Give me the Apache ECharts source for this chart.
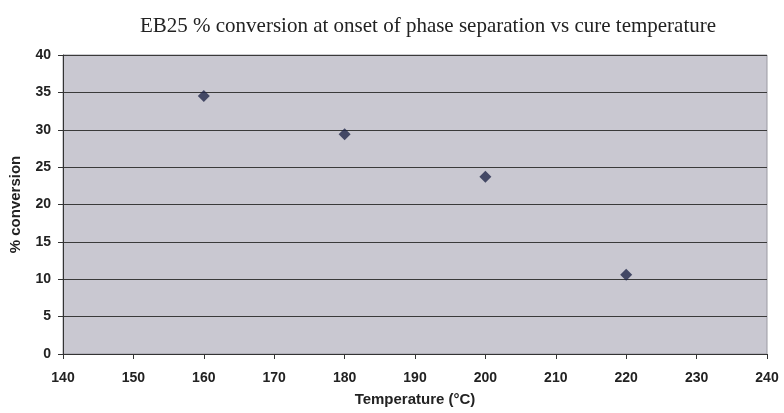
<!DOCTYPE html>
<html>
<head>
<meta charset="utf-8">
<script src="https://cdn.jsdelivr.net/npm/echarts@6/dist/echarts.min.js"></script>
<style>
  html, body { margin: 0; padding: 0; background: #fff; }
  #chart { width: 784px; height: 413px; }
</style>
</head>
<body>
<div id="chart"></div>
<script>
// values
const temperatures = [160, 180, 200, 220];
const conversions = [34.5, 29.4, 23.7, 10.6];

const chart = echarts.init(document.getElementById('chart'));
const points = temperatures.map((t, i) => [t, conversions[i]]);

const labelFont = { fontFamily: 'Liberation Sans, Arial, sans-serif', fontWeight: 'bold', fontSize: 14, color: '#222' };
const nameFont = { fontFamily: 'Liberation Sans, Arial, sans-serif', fontWeight: 'bold', fontSize: 15, color: '#222' };

chart.setOption({
    animation: false,
    backgroundColor: '#fff',
    title: {
        text: 'EB25 % conversion at onset of phase separation vs cure temperature',
        left: 423, top: 11, textAlign: 'center',
        textStyle: { fontFamily: 'Liberation Serif, Times New Roman, serif', fontWeight: 'normal', fontSize: 21, color: '#222' }
    },
    grid: {
        left: 62, right: 17, top: 55, bottom: 59,
        show: true, backgroundColor: '#c9c8d1', borderColor: '#9a9aa2', borderWidth: 1
    },
    xAxis: {
        type: 'value', min: 140, max: 240, interval: 10,
        name: 'Temperature (°C)', nameLocation: 'middle', nameGap: 38,
        nameTextStyle: nameFont,
        axisLine: { show: true, onZero: false, lineStyle: { color: '#333' } },
        axisTick: { show: true, inside: false, length: 5, lineStyle: { color: '#333' } },
        axisLabel: Object.assign({ margin: 17 }, labelFont),
        splitLine: { show: false }
    },
    yAxis: {
        type: 'value', min: 0, max: 40, interval: 5,
        name: '% conversion', nameLocation: 'middle', nameGap: 40,
        nameTextStyle: nameFont,
        axisLine: { show: true, onZero: false, lineStyle: { color: '#333' } },
        axisTick: { show: true, inside: false, length: 5, lineStyle: { color: '#333' } },
        axisLabel: Object.assign({ margin: 12 }, labelFont),
        splitLine: { show: true, lineStyle: { color: '#3a3a3a', width: 1 } }
    },
    series: [{
        type: 'scatter',
        data: points,
        symbol: 'diamond',
        symbolSize: 12,
        itemStyle: { color: '#22284a' }
    }]
});
</script>
</body>
</html>
